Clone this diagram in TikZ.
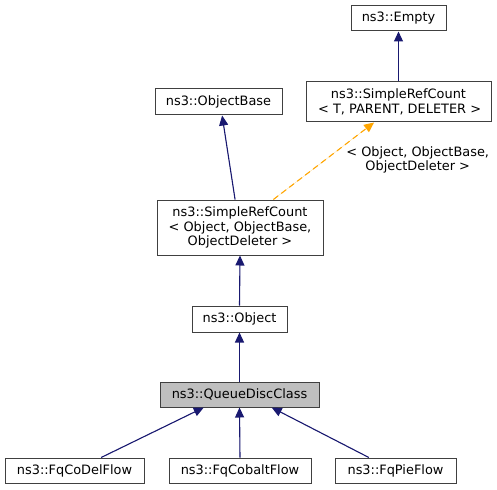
\documentclass[tikz,border=0pt]{standalone}
\usepackage{fontspec}
\setmainfont{DejaVu Sans}
\usepackage{tikz}
\usetikzlibrary{arrows.meta}
\definecolor{edgeblue}{HTML}{191970}
\definecolor{tmplorange}{HTML}{FFA500}

\begin{document}
\begin{tikzpicture}[x=1pt,y=-1pt,>={Triangle[length=10pt,width=9pt]},
      cls/.style={draw=black!75,line width=1pt,fill=white,
      inner sep=0pt,align=center,font=\fontsize{12.9}{14.5}\selectfont}]
      \useasboundingbox (0,0) rectangle (497,489);

      \node[cls,minimum width=95,minimum height=25] (empty) at (398.5,18.5) {ns3::Empty};
      \node[cls,minimum width=185,minimum height=40] (srct) at (398.5,102) {ns3::SimpleRefCount\\\,\textless{} T, PARENT, DELETER \textgreater};
      \node[cls,minimum width=127,minimum height=26] (objbase) at (218.5,102) {ns3::ObjectBase};
      \node[cls,minimum width=166,minimum height=55] (srcobj) at (240,227.5) {ns3::SimpleRefCount\\\textless{} Object, ObjectBase,\\ObjectDeleter \textgreater};
      \node[cls,minimum width=95,minimum height=26] (object) at (239.5,319) {ns3::Object};
      \node[cls,minimum width=159,minimum height=25,fill=black!25] (qdc) at (239.5,394.5) {ns3::QueueDiscClass};
      \node[cls,minimum width=139,minimum height=25] (codel) at (74.5,470.5) {ns3::FqCoDelFlow};
      \node[cls,minimum width=142,minimum height=25] (cobalt) at (240,470.5) {ns3::FqCobaltFlow};
      \node[cls,minimum width=121,minimum height=25] (pie) at (395.5,470.5) {ns3::FqPieFlow};

      \path[every edge/.style={draw=edgeblue,fill=edgeblue,line width=1.1pt,->}]
      (srct.north) edge (empty.south)
      (srcobj.100) edge (objbase.285)
      (object.north) edge (srcobj.south)
      (qdc.north) edge (object.south)
      (codel.26) edge (qdc.200)
      (cobalt.north) edge (qdc.south)
      (pie.154) edge (qdc.338);

      \path[every edge/.style={draw=tmplorange,fill=tmplorange,line width=1.1pt,->,
      dash pattern=on 6pt off 4pt}]
      (srcobj.40) edge node[pos=0.5,xshift=94,yshift=1,align=center,
      font=\fontsize{12.9}{14.5}\selectfont,text=black]
      {\textless{} Object, ObjectBase,\\ ObjectDeleter \textgreater} (srct.220);
\end{tikzpicture}
\end{document}
